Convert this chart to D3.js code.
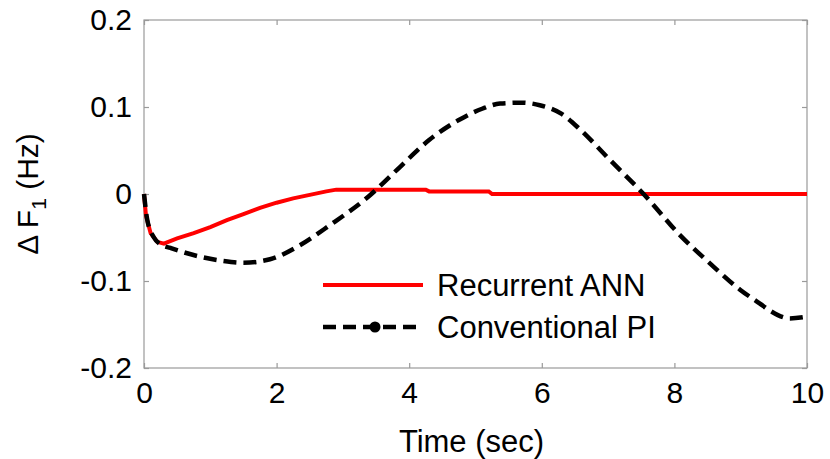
<!DOCTYPE html>
<html><head><meta charset="utf-8">
<script src="https://cdn.jsdelivr.net/npm/d3@7"></script>
<style>body{margin:0;background:#fff;} svg{display:block;} text{font-family:"Liberation Sans",Arial,sans-serif;fill:#000;}</style>
</head><body>
<svg id="c" width="830" height="459"></svg>
<script>
const xTicks = [0, 2, 4, 6, 8, 10];
const yTicks = [0.2, 0.1, 0, -0.1, -0.2];
const yTickLabels = ["0.2", "0.1", "0", "-0.1", "-0.2"];
const annT = [0, 0.03, 0.1, 0.2, 0.3, 0.5, 0.75, 1, 1.25, 1.5, 1.75, 2, 2.25, 2.5, 2.75, 2.9, 4.25, 4.3, 5.2, 5.25, 10];
const annV = [0, -0.025, -0.045, -0.055, -0.057, -0.051, -0.045, -0.038, -0.030, -0.023, -0.016, -0.010, -0.005, -0.001, 0.003, 0.005, 0.005, 0.003, 0.003, 0, 0];
const piT = [0, 0.05, 0.15, 0.25, 0.4, 0.6, 0.9, 1.2, 1.5, 1.9, 2.35, 2.8, 3.4, 3.86, 4.3, 4.77, 5.1, 5.37, 5.7, 5.97, 6.3, 6.58, 7.03, 7.56, 8.08, 8.54, 8.99, 9.29, 9.44, 9.74, 10];
const piV = [0, -0.03, -0.05, -0.058, -0.062, -0.067, -0.073, -0.077, -0.079, -0.075, -0.059, -0.036, -0.002, 0.031, 0.062, 0.086, 0.098, 0.104, 0.105, 0.102, 0.092, 0.074, 0.039, -0.002, -0.047, -0.08, -0.11, -0.126, -0.134, -0.143, -0.141];
const seriesNames = ["Recurrent ANN", "Conventional PI"];

const svg = d3.select("#c");
const L = 144, R = 807, T = 20, B = 368;
const x = d3.scaleLinear().domain([0, 10]).range([L, R]);
const y = d3.scaleLinear().domain([-0.2, 0.2]).range([B, T]);
const gray = "#9a9a9a";

svg.append("rect").attr("x", L).attr("y", T).attr("width", R - L).attr("height", B - T)
  .attr("fill", "none").attr("stroke", gray).attr("stroke-width", 1.2);

const xb = svg.append("g").attr("transform", `translate(0,${B})`)
  .call(d3.axisBottom(x).tickValues(xTicks).tickSizeInner(-5).tickSizeOuter(0).tickPadding(14).tickFormat(d3.format("d")));
const xt = svg.append("g").attr("transform", `translate(0,${T})`)
  .call(d3.axisTop(x).tickValues(xTicks).tickSizeInner(-5).tickSizeOuter(0).tickFormat(""));
const yl = svg.append("g").attr("transform", `translate(${L},0)`)
  .call(d3.axisLeft(y).tickValues(yTicks).tickSizeInner(-5).tickSizeOuter(0).tickPadding(12).tickFormat((d, i) => yTickLabels[i]));
const yr = svg.append("g").attr("transform", `translate(${R},0)`)
  .call(d3.axisRight(y).tickValues(yTicks).tickSizeInner(-5).tickSizeOuter(0).tickFormat(""));
[xb, xt, yl, yr].forEach(g => {
  g.select(".domain").remove();
  g.selectAll("line").attr("stroke", gray).attr("stroke-width", 1.2);
});
xb.selectAll("text").attr("font-size", 30).attr("font-family", "Liberation Sans, Arial, sans-serif").attr("dy", "0.71em");
yl.selectAll("text").attr("font-size", 30).attr("font-family", "Liberation Sans, Arial, sans-serif");

const ann = annT.map((t, i) => [t, annV[i]]);
const pi = piT.map((t, i) => [t, piV[i]]);
const lineA = d3.line().x(d => x(d[0])).y(d => y(d[1])).curve(d3.curveLinear);
const lineP = d3.line().x(d => x(d[0])).y(d => y(d[1])).curve(d3.curveMonotoneX);
svg.append("path").attr("d", lineA(ann)).attr("fill", "none").attr("stroke", "#ff0000").attr("stroke-width", 4);
svg.append("path").attr("d", lineP(pi)).attr("fill", "none").attr("stroke", "#000").attr("stroke-width", 4.5)
  .attr("stroke-dasharray", "13,7");

const lg = svg.append("g");
lg.append("line").attr("x1", 323).attr("x2", 423).attr("y1", 285).attr("y2", 285).attr("stroke", "#ff0000").attr("stroke-width", 4);
lg.append("line").attr("x1", 323).attr("x2", 423).attr("y1", 327).attr("y2", 327).attr("stroke", "#000").attr("stroke-width", 4.5).attr("stroke-dasharray", "13,7");
lg.append("circle").attr("cx", 375).attr("cy", 327).attr("r", 5.5).attr("fill", "#000");
lg.append("text").attr("x", 437).attr("y", 296).attr("font-size", 31).text(seriesNames[0]);
lg.append("text").attr("x", 437).attr("y", 338).attr("font-size", 31).text(seriesNames[1]);

svg.append("text").attr("x", (L + R) / 2 - 4).attr("y", 452).attr("text-anchor", "middle").attr("font-size", 31).text("Time (sec)");
const yt = svg.append("text").attr("transform", `translate(38,${(T + B) / 2}) rotate(-90)`).attr("text-anchor", "middle").attr("font-size", 30);
yt.append("tspan").text("\u0394 F");
yt.append("tspan").attr("font-size", 21).attr("dy", 8).text("1");
yt.append("tspan").attr("dy", -8).text(" (Hz)");
</script>
</body></html>
